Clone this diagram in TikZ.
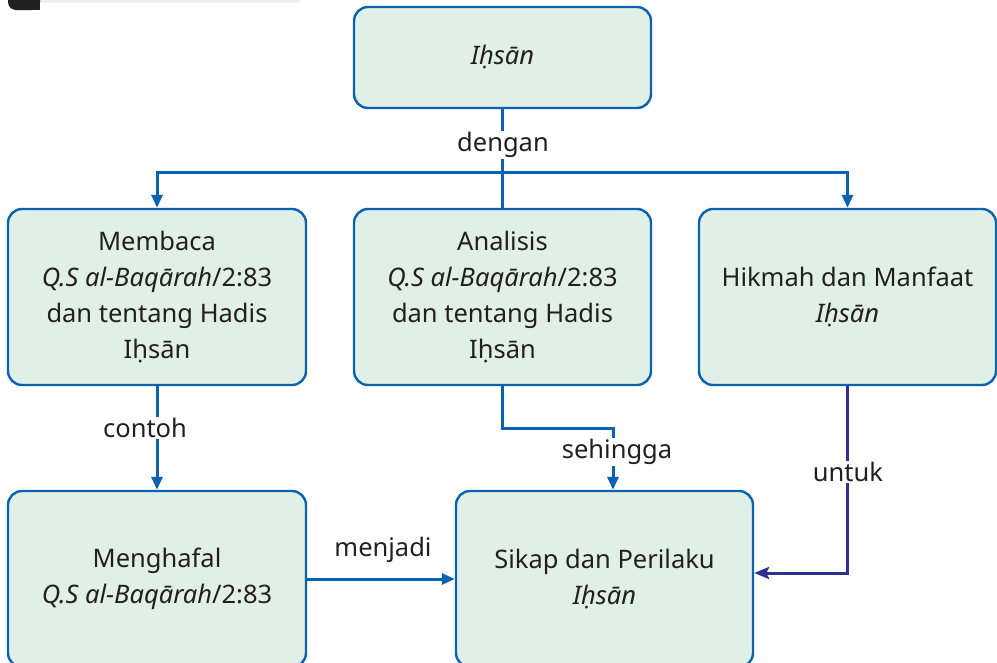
\documentclass[tikz,border=0pt]{standalone}
\usepackage{fontspec}
\setmainfont{Noto Sans}
\usetikzlibrary{arrows.meta}
\definecolor{edge}{HTML}{0B62B0}
\definecolor{boxfill}{HTML}{E1F0E6}
\definecolor{ink}{HTML}{231F20}
\definecolor{indigo}{HTML}{2E3192}
\begin{document}
\begin{tikzpicture}[x=1pt,y=-1pt,
  card/.style={draw=edge, line width=2.4pt, fill=boxfill, rounded corners=14pt,
    text=ink, align=center, inner sep=0pt,
    font=\fontsize{25.5}{35.7}\selectfont},
  link/.style={draw=edge, line width=3pt, -{Triangle[length=13pt,width=11pt]}},
  plain/.style={draw=edge, line width=3pt},
  ulink/.style={draw=indigo, line width=3pt, -{Stealth[length=15pt,width=12pt,inset=3pt]}},
  tag/.style={fill=white, text=ink, inner sep=1pt,
    font=\fontsize{25.5}{28}\selectfont}]
\useasboundingbox (0,0) rectangle (997,662);

% corner tab of the page header
\fill[black!6] (40,0) rectangle (300,2.5);
\fill[ink, rounded corners=8pt] (8,-20) rectangle (40,10);
\fill[ink] (30,-20) rectangle (40,10);

% boxes
\node[card, minimum width=297pt, minimum height=101pt] (top) at (502.5,57.5)
  {\itshape Iḥsān};
\node[card, minimum width=298pt, minimum height=176pt] (membaca) at (157,297)
  {Membaca\\ \textit{Q.S al-Baqārah}/2:83\\ dan tentang Hadis\\ Iḥsān};
\node[card, minimum width=297pt, minimum height=176pt] (analisis) at (502.5,297)
  {Analisis\\ \textit{Q.S al-Baqārah}/2:83\\ dan tentang Hadis\\ Iḥsān};
\node[card, minimum width=297pt, minimum height=176pt] (hikmah) at (847.5,297)
  {Hikmah dan Manfaat\\ \textit{Iḥsān}};
\node[card, minimum width=298pt, minimum height=176pt] (menghafal) at (157,579)
  {Menghafal\\ \textit{Q.S al-Baqārah}/2:83};
\node[card, minimum width=297pt, minimum height=176pt] (sikap) at (604.5,579)
  {Sikap dan Perilaku\\ \textit{Iḥsān}};

% branching from the top box
\coordinate (split) at (502.5,172);
\draw[plain] (top.south) -- (analisis.north);
\draw[link] (split) -| (membaca.north);
\draw[link] (split) -| (hikmah.north);
\node[tag] at (503,145) {dengan};

% contoh
\draw[link] (membaca.south) -- (menghafal.north);
\node[tag] at (145,428) {contoh};

% sehingga
\coordinate (bend) at (613,428);
\draw[link] (analisis.south) |- (bend) -- (bend |- sikap.north);
\node[tag] at (617,452) {sehingga};

% untuk
\coordinate (ucorner) at (848,573);
\draw[ulink] (hikmah.south) |- (ucorner -| sikap.east);
\node[tag] at (848,472) {untuk};

% menjadi
\draw[link] (menghafal.east) -- (sikap.west);
\node[tag, fill=none] at (383,550) {menjadi};
\end{tikzpicture}
\end{document}
